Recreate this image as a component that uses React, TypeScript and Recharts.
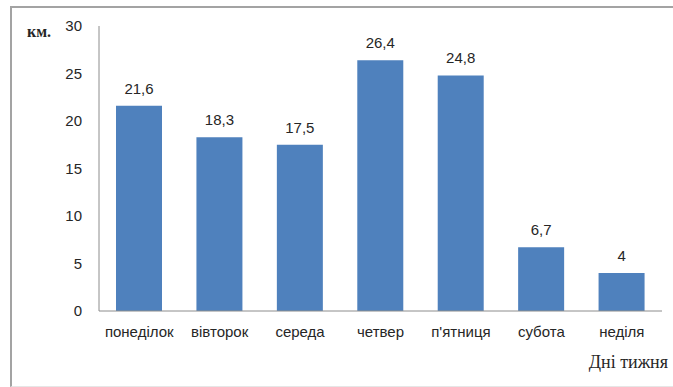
import React from 'react';
import { BarChart, Bar, XAxis, YAxis, LabelList, Label } from 'recharts';

// Distance covered each day of the week, km
const days = ['понеділок', 'вівторок', 'середа', 'четвер', "п'ятниця", 'субота', 'неділя'];
const distances = [21.6, 18.3, 17.5, 26.4, 24.8, 6.7, 4];
const yTicks = [0, 5, 10, 15, 20, 25, 30];

const data = days.map((day, i) => ({ day, km: distances[i] }));

const sans = '"Liberation Sans", Arial, sans-serif';
const serif = '"Liberation Serif", "Times New Roman", serif';
const axisColor = '#8c8c8c';
const textColor = '#262626';

const fmt = (v: any) => String(v).replace('.', ',');

export default function App() {
  return (
    <div style={{ position: 'absolute', left: 0, top: 0, width: 673, height: 387, background: '#fff', overflow: 'hidden' }}>
      <div
        style={{
          position: 'absolute',
          left: 10,
          top: 6,
          width: 700,
          height: 378,
          borderTop: '2px solid #a3a3a3',
          borderLeft: '2px solid #a3a3a3',
          borderBottom: '1px solid #e6e6e6',
        }}
      />
      <div style={{ position: 'absolute', left: 0, top: 0 }}>
        <BarChart width={673} height={387} data={data} margin={{ top: 26, right: 11, bottom: 0, left: 0 }}>
          <XAxis
            dataKey="day"
            height={76}
            stroke={axisColor}
            tickLine={false}
            tickMargin={9}
            tick={{ fill: textColor, fontSize: 15, fontFamily: sans }}
            interval={0}
          >
            <Label
              content={({ viewBox }: any) => (
                <text
                  x={viewBox.x + viewBox.width + 6}
                  y={viewBox.y + 57}
                  textAnchor="end"
                  fill={textColor}
                  style={{ fontFamily: serif, fontSize: 18 }}
                >
                  Дні тижня
                </text>
              )}
            />
          </XAxis>
          <YAxis
            width={99}
            domain={[0, 30]}
            ticks={yTicks}
            stroke={axisColor}
            tickLine={false}
            tickMargin={11}
            tick={{ fill: textColor, fontSize: 15, fontFamily: sans }}
          >
            <Label
              content={({ viewBox }: any) => (
                <text
                  x={viewBox.x + 27}
                  y={viewBox.y + 11}
                  fill={textColor}
                  style={{ fontFamily: serif, fontSize: 16, fontWeight: 600 }}
                >
                  км.
                </text>
              )}
            />
          </YAxis>
          <Bar dataKey="km" fill="#4f81bd" barSize={46} isAnimationActive={false}>
            <LabelList
              dataKey="km"
              position="top"
              offset={12}
              formatter={fmt}
              fill={textColor}
              fontSize={15}
              fontFamily={sans}
            />
          </Bar>
        </BarChart>
      </div>
    </div>
  );
}
